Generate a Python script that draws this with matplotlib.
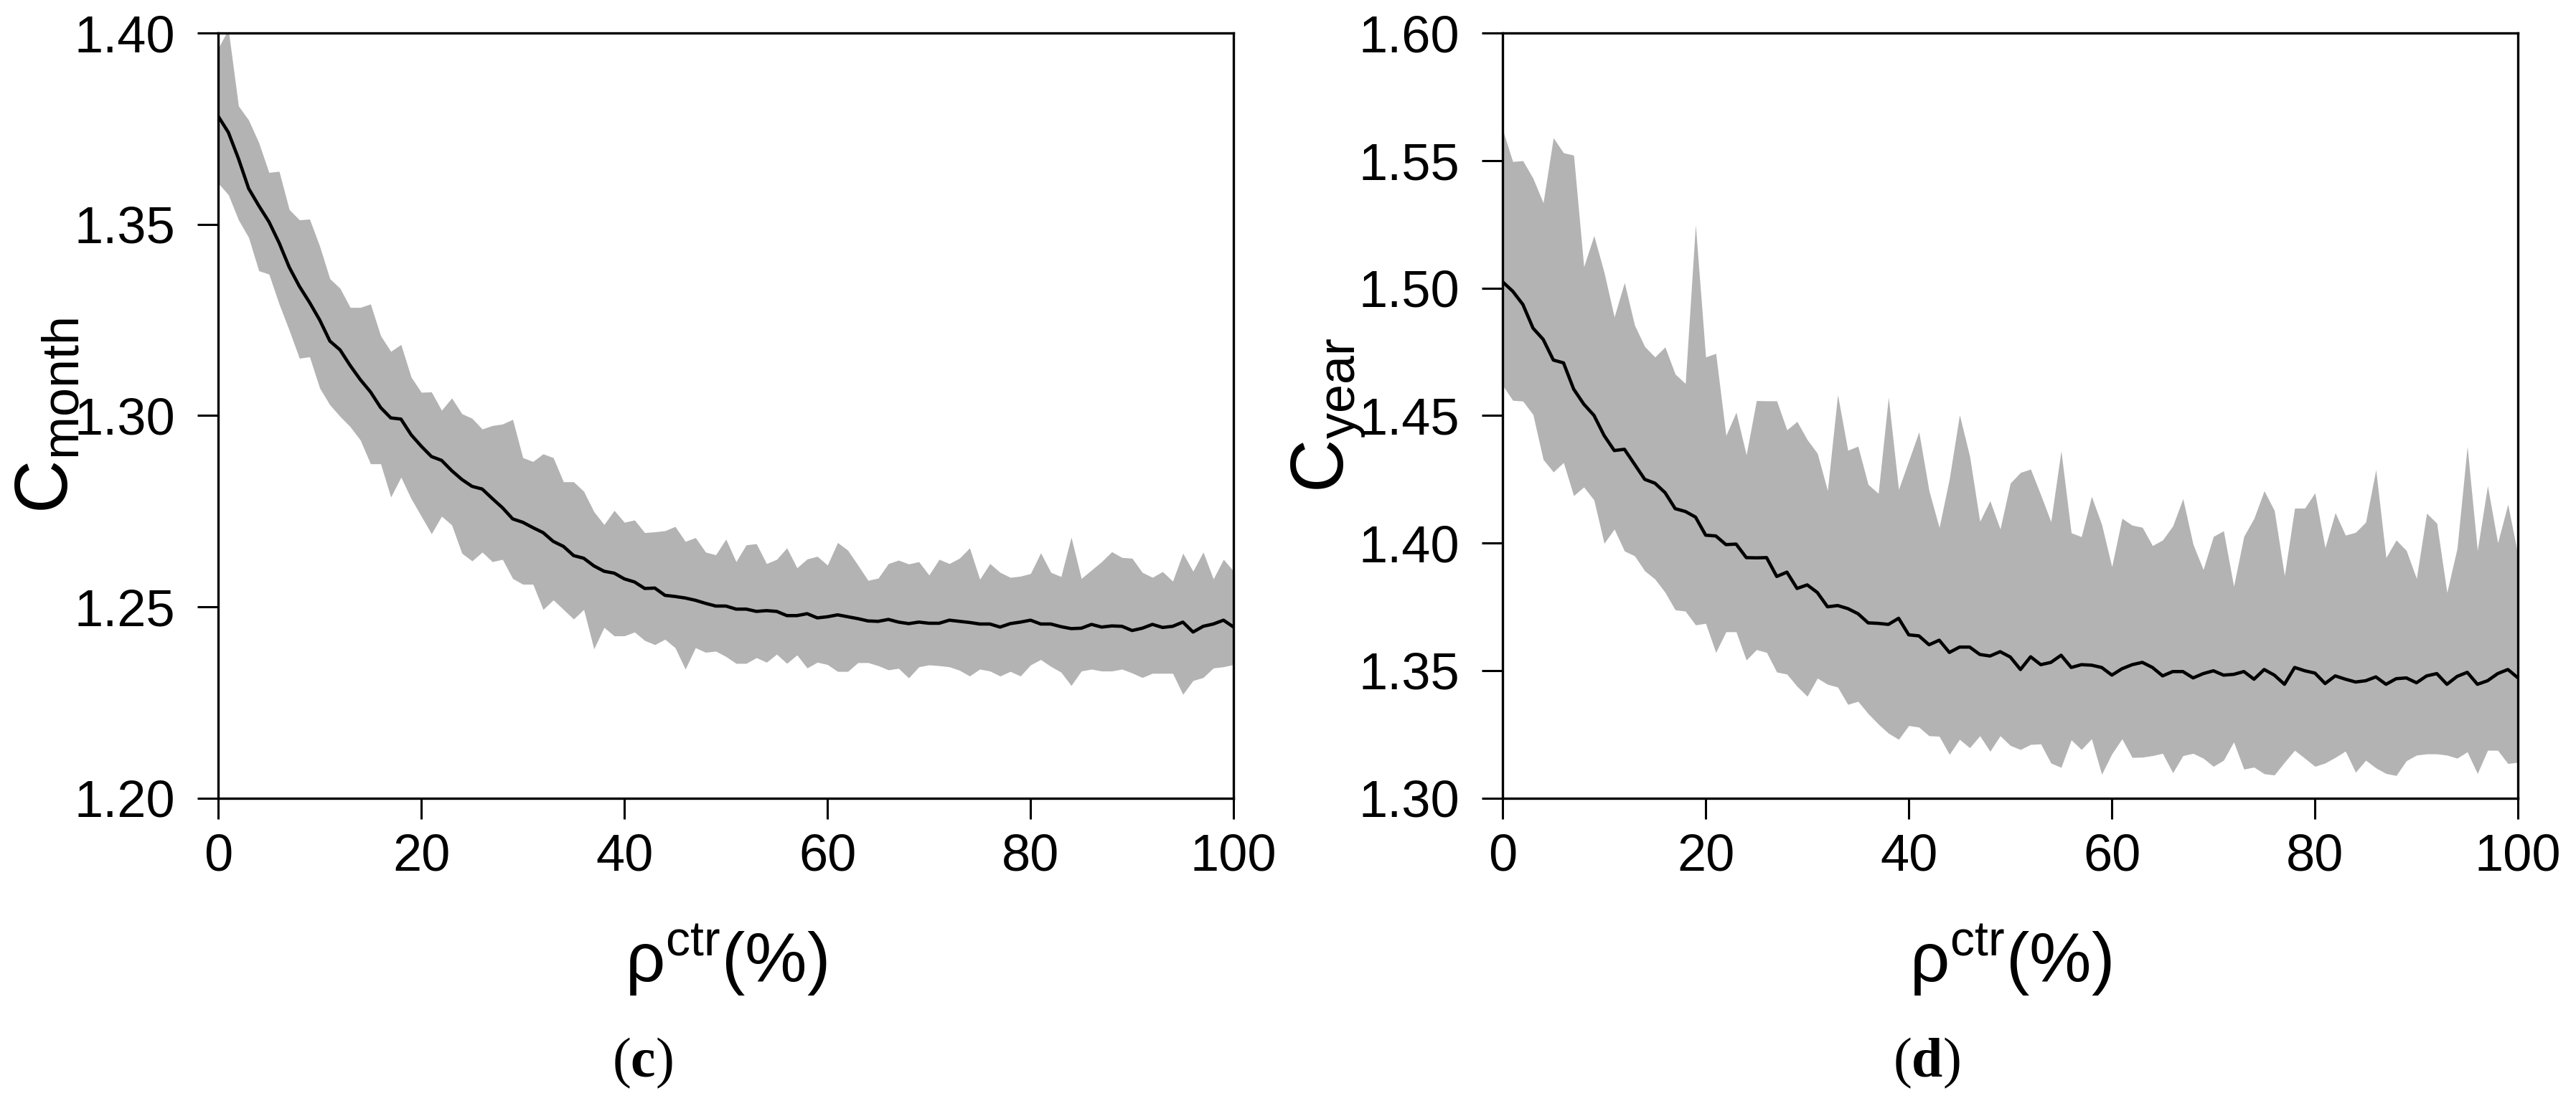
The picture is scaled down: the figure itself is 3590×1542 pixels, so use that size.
import numpy as np
import matplotlib
matplotlib.use("Agg")
import matplotlib.pyplot as plt

plt.rcParams['font.family'] = ['Liberation Sans', 'DejaVu Sans']
plt.rcParams['mathtext.fontset'] = 'custom'
plt.rcParams['mathtext.rm'] = 'Liberation Sans'
plt.rcParams['mathtext.it'] = 'Liberation Sans'
plt.rcParams['mathtext.bf'] = 'Liberation Serif:bold'
plt.rcParams['mathtext.default'] = 'regular'

rho_ctr = list(range(0, 101))

mean_month = [
    1.3783, 1.3741, 1.3672, 1.3594, 1.3549, 1.3507, 1.3452, 1.3388, 1.3338, 1.3296,
    1.3250, 1.3195, 1.3172, 1.3131, 1.3094, 1.3062, 1.3021, 1.2994, 1.2991, 1.2950,
    1.2920, 1.2893, 1.2883, 1.2856, 1.2833, 1.2815, 1.2808, 1.2783, 1.2759, 1.2730,
    1.2721, 1.2707, 1.2694, 1.2671, 1.2658, 1.2634, 1.2627, 1.2607, 1.2593, 1.2588,
    1.2573, 1.2565, 1.2548, 1.2549, 1.2530, 1.2527, 1.2523, 1.2517, 1.2509, 1.2502,
    1.2502, 1.2494, 1.2494, 1.2488, 1.2490, 1.2488, 1.2477, 1.2477, 1.2482, 1.2471,
    1.2474, 1.2479, 1.2474, 1.2469, 1.2463, 1.2462, 1.2467, 1.2460, 1.2456, 1.2460,
    1.2457, 1.2457, 1.2465, 1.2462, 1.2459, 1.2455, 1.2455, 1.2447, 1.2456, 1.2460,
    1.2465, 1.2455, 1.2455, 1.2448, 1.2443, 1.2444, 1.2454, 1.2447, 1.2450, 1.2449,
    1.2438, 1.2444, 1.2454, 1.2446, 1.2449, 1.2460, 1.2434, 1.2449, 1.2455, 1.2465,
    1.2447]

upper_month = [
    1.3961, 1.4010, 1.3810, 1.3773, 1.3714, 1.3636, 1.3639, 1.3539, 1.3512, 1.3514,
    1.3443, 1.3358, 1.3333, 1.3283, 1.3283, 1.3292, 1.3209, 1.3168, 1.3186, 1.3101,
    1.3061, 1.3062, 1.3014, 1.3046, 1.3005, 1.2993, 1.2965, 1.2974, 1.2978, 1.2990,
    1.2890, 1.2880, 1.2900, 1.2890, 1.2827, 1.2827, 1.2802, 1.2749, 1.2715, 1.2752,
    1.2721, 1.2727, 1.2694, 1.2696, 1.2699, 1.2710, 1.2671, 1.2681, 1.2643, 1.2636,
    1.2677, 1.2618, 1.2662, 1.2665, 1.2613, 1.2624, 1.2654, 1.2602, 1.2625, 1.2632,
    1.2609, 1.2668, 1.2648, 1.2609, 1.2569, 1.2575, 1.2613, 1.2622, 1.2612, 1.2618,
    1.2583, 1.2624, 1.2613, 1.2627, 1.2654, 1.2572, 1.2613, 1.2590, 1.2577, 1.2580,
    1.2587, 1.2641, 1.2590, 1.2579, 1.2682, 1.2574, 1.2596, 1.2618, 1.2644, 1.2629,
    1.2627, 1.2590, 1.2577, 1.2592, 1.2567, 1.2640, 1.2593, 1.2643, 1.2573, 1.2624,
    1.2593]

lower_month = [
    1.3608, 1.3578, 1.3512, 1.3466, 1.3379, 1.3370, 1.3292, 1.3223, 1.3150, 1.3154,
    1.3072, 1.3028, 1.2998, 1.2971, 1.2936, 1.2874, 1.2874, 1.2787, 1.2839, 1.2783,
    1.2737, 1.2691, 1.2737, 1.2714, 1.2640, 1.2620, 1.2643, 1.2618, 1.2624, 1.2574,
    1.2559, 1.2559, 1.2493, 1.2518, 1.2493, 1.2468, 1.2493, 1.2390, 1.2446, 1.2424,
    1.2424, 1.2434, 1.2412, 1.2401, 1.2415, 1.2393, 1.2337, 1.2393, 1.2381, 1.2384,
    1.2370, 1.2352, 1.2352, 1.2367, 1.2355, 1.2376, 1.2352, 1.2374, 1.2340, 1.2355,
    1.2349, 1.2331, 1.2331, 1.2354, 1.2354, 1.2346, 1.2335, 1.2339, 1.2314, 1.2343,
    1.2348, 1.2346, 1.2343, 1.2334, 1.2319, 1.2337, 1.2332, 1.2319, 1.2331, 1.2319,
    1.2348, 1.2362, 1.2344, 1.2329, 1.2294, 1.2332, 1.2337, 1.2332, 1.2332, 1.2337,
    1.2327, 1.2315, 1.2326, 1.2326, 1.2326, 1.2271, 1.2307, 1.2315, 1.2340, 1.2343,
    1.2349]

mean_year = [
    1.5025, 1.4988, 1.4936, 1.4843, 1.4799, 1.4718, 1.4707, 1.4604, 1.4545, 1.4501,
    1.4422, 1.4363, 1.4368, 1.4309, 1.4250, 1.4235, 1.4198, 1.4135, 1.4124, 1.4102,
    1.4031, 1.4028, 1.3994, 1.3996, 1.3943, 1.3942, 1.3943, 1.3869, 1.3886, 1.3822,
    1.3836, 1.3806, 1.3750, 1.3755, 1.3743, 1.3723, 1.3687, 1.3685, 1.3681, 1.3705,
    1.3640, 1.3636, 1.3601, 1.3619, 1.3571, 1.3592, 1.3592, 1.3563, 1.3557, 1.3574,
    1.3553, 1.3504, 1.3554, 1.3523, 1.3532, 1.3560, 1.3512, 1.3523, 1.3521, 1.3512,
    1.3482, 1.3507, 1.3523, 1.3532, 1.3512, 1.3479, 1.3496, 1.3496, 1.3471, 1.3488,
    1.3499, 1.3482, 1.3485, 1.3496, 1.3466, 1.3504, 1.3482, 1.3446, 1.3512, 1.3499,
    1.3490, 1.3449, 1.3479, 1.3466, 1.3455, 1.3460, 1.3475, 1.3446, 1.3468, 1.3471,
    1.3452, 1.3479, 1.3488, 1.3446, 1.3477, 1.3493, 1.3446, 1.3460, 1.3488, 1.3504,
    1.3471]

upper_year = [
    1.5623, 1.5497, 1.5500, 1.5431, 1.5335, 1.5590, 1.5531, 1.5522, 1.5084, 1.5206,
    1.5062, 1.4887, 1.5022, 1.4855, 1.4771, 1.4730, 1.4769, 1.4663, 1.4626, 1.5249,
    1.4730, 1.4744, 1.4422, 1.4513, 1.4346, 1.4559, 1.4558, 1.4558, 1.4444, 1.4477,
    1.4406, 1.4352, 1.4206, 1.4582, 1.4364, 1.4380, 1.4230, 1.4195, 1.4572, 1.4210,
    1.4323, 1.4436, 1.4205, 1.4061, 1.4252, 1.4503, 1.4341, 1.4085, 1.4166, 1.4055,
    1.4235, 1.4277, 1.4290, 1.4189, 1.4084, 1.4362, 1.4040, 1.4025, 1.4183, 1.4073,
    1.3907, 1.4097, 1.4070, 1.4062, 1.3990, 1.4012, 1.4067, 1.4174, 1.3995, 1.3896,
    1.4026, 1.4048, 1.3830, 1.4026, 1.4097, 1.4205, 1.4128, 1.3872, 1.4137, 1.4137,
    1.4197, 1.3982, 1.4119, 1.4031, 1.4042, 1.4082, 1.4288, 1.3943, 1.4012, 1.3971,
    1.3861, 1.4117, 1.4078, 1.3806, 1.3979, 1.4379, 1.3971, 1.4225, 1.4001, 1.4152,
    1.3951]

lower_year = [
    1.4619, 1.4560, 1.4557, 1.4504, 1.4328, 1.4279, 1.4316, 1.4186, 1.4220, 1.4169,
    1.3999, 1.4055, 1.3969, 1.3950, 1.3891, 1.3859, 1.3807, 1.3738, 1.3733, 1.3679,
    1.3685, 1.3571, 1.3652, 1.3652, 1.3541, 1.3582, 1.3571, 1.3494, 1.3486, 1.3438,
    1.3399, 1.3470, 1.3446, 1.3435, 1.3367, 1.3379, 1.3331, 1.3290, 1.3254, 1.3230,
    1.3284, 1.3278, 1.3244, 1.3242, 1.3171, 1.3230, 1.3197, 1.3244, 1.3183, 1.3244,
    1.3206, 1.3190, 1.3210, 1.3212, 1.3137, 1.3120, 1.3228, 1.3190, 1.3232, 1.3093,
    1.3173, 1.3232, 1.3159, 1.3160, 1.3166, 1.3175, 1.3099, 1.3166, 1.3175, 1.3156,
    1.3124, 1.3148, 1.3220, 1.3113, 1.3121, 1.3095, 1.3090, 1.3140, 1.3187, 1.3156,
    1.3124, 1.3137, 1.3159, 1.3184, 1.3101, 1.3148, 1.3118, 1.3096, 1.3088, 1.3146,
    1.3168, 1.3173, 1.3173, 1.3168, 1.3156, 1.3181, 1.3096, 1.3187, 1.3187, 1.3135,
    1.3140]

x_ticks = [0, 20, 40, 60, 80, 100]
yticks_month = [1.20, 1.25, 1.30, 1.35, 1.40]
yticks_year = [1.30, 1.35, 1.40, 1.45, 1.50, 1.55, 1.60]

panels = [
    dict(mean=mean_month, up=upper_month, lo=lower_month, yt=yticks_month,
         ylabel=r'C$_{month}$', tag=r'($\mathbf{c}$)', left=0.0847),
    dict(mean=mean_year, up=upper_year, lo=lower_year, yt=yticks_year,
         ylabel=r'C$_{year}$', tag=r'($\mathbf{d}$)', left=0.5833),
]

fig = plt.figure(figsize=(35.9, 15.42), dpi=100)
band_color = '#b3b3b3'

for p in panels:
    ax = fig.add_axes([p['left'], 0.2785, 0.3942, 0.6914])
    ax.fill_between(rho_ctr, p['lo'], p['up'], color=band_color, linewidth=0, zorder=1)
    ax.plot(rho_ctr, p['mean'], color='black', linewidth=3.3, zorder=2)
    ax.set_xlim(0, 100)
    ax.set_ylim(p['yt'][0], p['yt'][-1])
    ax.set_xticks(x_ticks)
    ax.set_yticks(p['yt'])
    ax.set_yticklabels([f'{v:.2f}' for v in p['yt']])
    for s in ax.spines.values():
        s.set_linewidth(2.4)
    ax.tick_params(axis='both', direction='out', length=21, width=2.2,
                   labelsize=52, top=False, right=False)
    ax.tick_params(axis='y', pad=22)
    ax.tick_params(axis='x', pad=14)
    ax.set_xlabel(r'$\rho^{ctr}$(%)', fontsize=70, labelpad=42)
    ax.set_ylabel(p['ylabel'], fontsize=74)
    ax.yaxis.set_label_coords(-0.133, 0.5)
    fig.text(p['left'] - 0.0847 + 0.2493, 0.039, p['tag'], fontsize=56,
             family=['Liberation Serif', 'DejaVu Serif'],
             ha='center', va='center')

fig.savefig('out.png', dpi=100)
